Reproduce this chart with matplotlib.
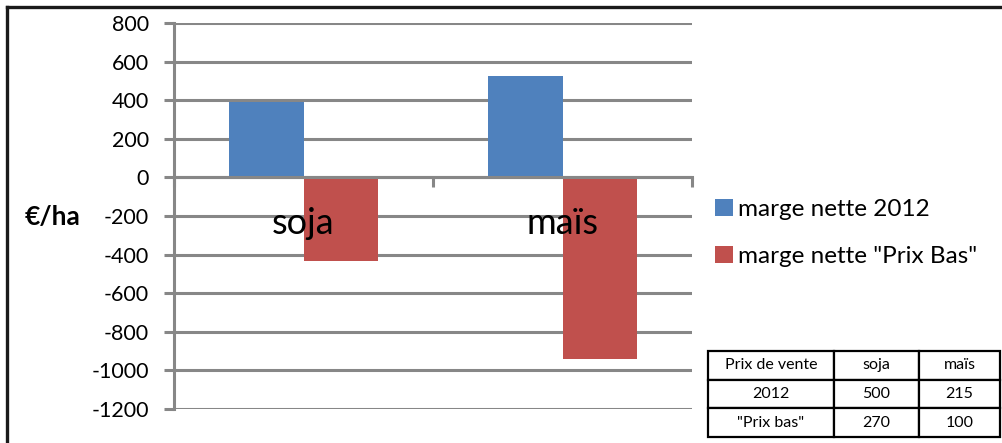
import numpy as np
import matplotlib.pyplot as plt
from matplotlib.lines import Line2D
from matplotlib.patches import Patch

plt.rcParams['font.family'] = ['Lato', 'DejaVu Sans']

cultures = ['soja', 'maïs']
marge_2012 = [390, 525]
marge_prix_bas = [-435, -940]
series_labels = ['marge nette 2012', 'marge nette "Prix Bas"']
y_ticks = [800, 600, 400, 200, 0, -200, -400, -600, -800, -1000, -1200]

table_rows = [['Prix de vente', 'soja', 'maïs'],
              ['2012', '500', '215'],
              ['"Prix bas"', '270', '100']]

blue = '#4F81BD'
red = '#C0504D'
grey = '#878787'

fig = plt.figure(figsize=(10.02, 4.43), dpi=100)
ax = fig.add_axes([174 / 1002, 1 - 409 / 443, (692 - 174) / 1002, (409 - 23) / 443])

x = np.arange(len(cultures))
w = 0.286
ax.bar(x - w / 2, marge_2012, w, color=blue, zorder=3)
ax.bar(x + w / 2, marge_prix_bas, w, color=red, zorder=3)

ax.set_xlim(-0.5, 1.5)
ax.set_ylim(-1200, 800)
ax.set_yticks(y_ticks)
ax.set_yticklabels([str(v) for v in y_ticks], fontsize=15.5)
ax.yaxis.grid(True, color=grey, linewidth=2.2, zorder=0)
ax.set_axisbelow(True)

for s in ['top', 'right']:
    ax.spines[s].set_visible(False)
ax.spines['left'].set_color(grey)
ax.spines['left'].set_linewidth(2.2)
ax.spines['bottom'].set_position(('data', 0))
ax.spines['bottom'].set_color(grey)
ax.spines['bottom'].set_linewidth(2.2)
ax.spines['bottom'].set_zorder(4)

ax.set_xticks([-0.5, 0.5, 1.5])
ax.set_xticklabels([])
ax.tick_params(axis='x', direction='out', length=7, width=2.2, color=grey)
ax.tick_params(axis='y', direction='out', length=7, width=2.2, color=grey, pad=11)

# category names sit just under the zero line
for i, name in enumerate(cultures):
    ax.annotate(name, (x[i], 0), xytext=(0, -33), textcoords='offset points',
                ha='center', va='center', fontsize=26, zorder=5)

fig.text(25 / 1002, 1 - 217 / 443, '€/ha', fontsize=19, fontweight='bold',
         ha='left', va='center')

handles = [Patch(facecolor=blue), Patch(facecolor=red)]
fig.legend(handles, series_labels, loc='upper left',
           bbox_to_anchor=(705 / 1002, 1 - 189 / 443), frameon=False,
           fontsize=17.5, handlelength=0.75, handleheight=0.7,
           handletextpad=0.2, labelspacing=1.08, borderaxespad=0)

# price table in the lower right corner
tax = fig.add_axes([708 / 1002, 1 - 437 / 443, (1000 - 708) / 1002, (437 - 351) / 443])
tax.axis('off')
tbl = tax.table(cellText=table_rows, cellLoc='center', bbox=[0, 0, 1, 1],
                colWidths=[126, 85, 81])
tbl.auto_set_font_size(False)
for (r, c), cell in tbl.get_celld().items():
    cell.set_linewidth(1.6)
    cell.set_edgecolor('black')
    cell.get_text().set_fontsize(11.5)

# outer frame (top and left edges)
fig.add_artist(Line2D([7 / 1002, 1.0], [1 - 7 / 443, 1 - 7 / 443],
                      transform=fig.transFigure, color='#1a1a1a', linewidth=2.4))
fig.add_artist(Line2D([7 / 1002, 7 / 1002], [0, 1 - 7 / 443],
                      transform=fig.transFigure, color='#1a1a1a', linewidth=2.4))

fig.savefig('out.png', dpi=100)
